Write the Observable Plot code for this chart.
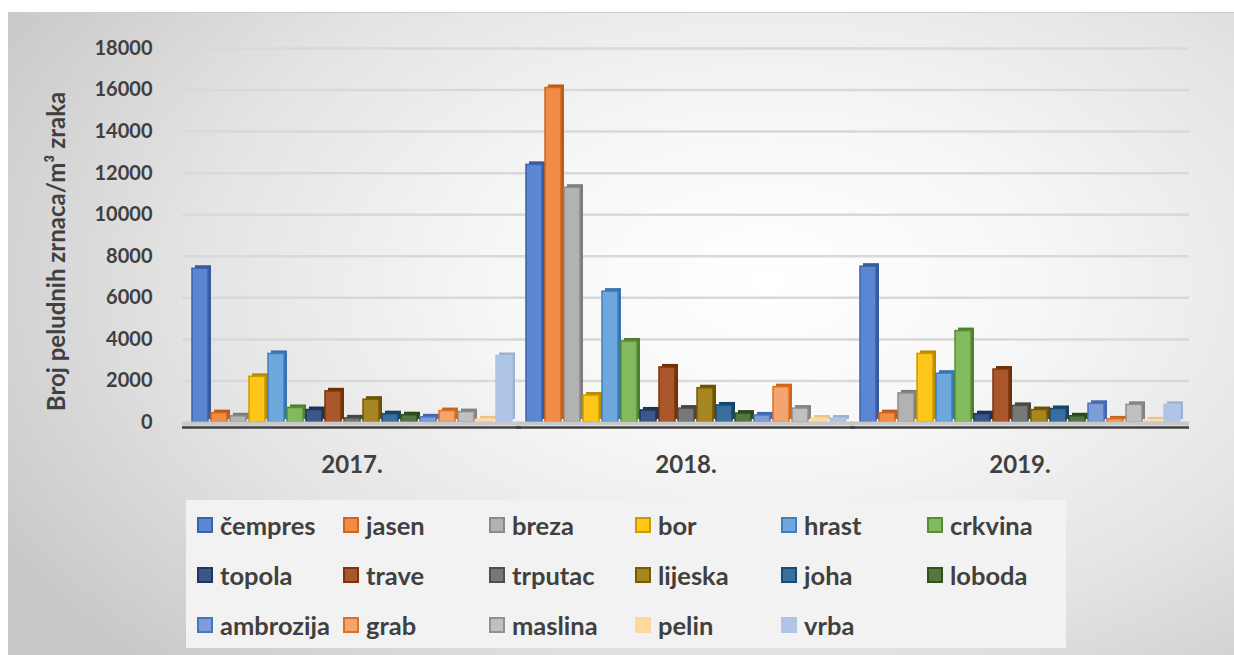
<!DOCTYPE html>
<html>
<head>
<meta charset="utf-8">
<script src="https://cdn.jsdelivr.net/npm/d3@7"></script>
<script src="https://cdn.jsdelivr.net/npm/@observablehq/plot@0.6"></script>
<style>
  body { margin: 0; background: #fff; }
  #wrap { position: relative; width: 1234px; height: 655px; overflow: hidden; background: #fff; font-family: Lato, "Open Sans", sans-serif; }
  #panel { position: absolute; left: 8px; top: 12px; right: 0; bottom: 0; border-top: 1px solid #cdcdcd;
    background: radial-gradient(ellipse 72% 85% at 62% 42%, #ffffff 0%, #f7f7f7 30%, #e4e4e4 65%, #c8c8c8 100%); }
  #chart { position: absolute; left: 0; top: 0; }
  #legend { position: absolute; left: 186px; top: 500px; width: 880px; height: 148px; background: #f2f2f2;
    display: grid; grid-template-columns: repeat(6, 146px); grid-auto-rows: 50px; padding-left: 11px; box-sizing: border-box; }
  .item { display: flex; align-items: center; color: #404040; font-weight: 700; font-size: 25.5px; white-space: nowrap; }
  .sw { width: 16px; height: 16px; box-sizing: border-box; border: 2px solid; margin-right: 7px; flex: none; }
</style>
</head>
<body>
<div id="wrap">
  <div id="panel"></div>
  <div id="chart"></div>
  <div id="legend"></div>
</div>
<script>
const years = ["2017.", "2018.", "2019."];
const species = ["čempres", "jasen", "breza", "bor", "hrast", "crkvina", "topola", "trave", "trputac",
  "lijeska", "joha", "loboda", "ambrozija", "grab", "maslina", "pelin", "vrba"];
const values2017 = [7400, 450, 300, 2200, 3300, 700, 600, 1500, 200, 1100, 400, 350, 250, 550, 500, 150, 3200];
const values2018 = [12400, 16100, 11300, 1300, 6300, 3900, 580, 2650, 670, 1650, 820, 430, 340, 1700, 670, 190, 190];
const values2019 = [7500, 450, 1400, 3300, 2350, 4400, 400, 2550, 800, 600, 650, 300, 900, 150, 850, 100, 850];
const yTicks = [0, 2000, 4000, 6000, 8000, 10000, 12000, 14000, 16000, 18000];
const yLabel = "Broj peludnih zrnaca/m³ zraka";
const fills = ["#5B86D2", "#F08C48", "#B2B2B2", "#FFC61A", "#6EA7DB", "#82BA5E", "#3B5688", "#A8562A", "#777777",
  "#A68523", "#3A6E9E", "#557640", "#7C9DD8", "#F3A571", "#C0C0C0", "#FFD8A0", "#AEC5E8"];
const strokes = ["#3B63AC", "#D0651C", "#8A8A8A", "#CC9A00", "#3C80C0", "#5A8C38", "#1E3660", "#7A360A", "#4E4E4E",
  "#785A00", "#1B4A74", "#30501E", "#4A73C0", "#E0701F", "#909090", "#FFD8A0", "#AEC5E8"];

const seriesByYear = [values2017, values2018, values2019];
const fillOf = Object.fromEntries(species.map((s, i) => [s, fills[i]]));
const strokeOf = Object.fromEntries(species.map((s, i) => [s, strokes[i]]));
const data = years.flatMap((yr, i) => seriesByYear[i].map((v, j) => ({year: yr, species: species[j], value: v})));

const chart = Plot.plot({
  width: 1234,
  height: 490,
  marginLeft: 180,
  marginRight: 44,
  marginTop: 48,
  marginBottom: 68,
  style: {background: "transparent", fontFamily: "Lato, 'Open Sans', sans-serif", color: "#404040"},
  fx: {domain: years, paddingInner: 0.027, paddingOuter: 0.025},
  x: {domain: species, paddingInner: 0.16, paddingOuter: 0, axis: null},
  y: {domain: [0, 18000]},
  color: {type: "identity"},
  marks: [
    Plot.ruleY(yTicks.slice(1), {stroke: "#d9d9d9", strokeWidth: 2.5, insetLeft: -7, insetRight: -7}),
    Plot.axisY(yTicks, {tickSize: 0, tickPadding: 37, fontSize: 20, fontWeight: "bold", color: "#404040",
      tickFormat: d => String(d), label: null}),
    Plot.text([yLabel], {fx: () => years[0], frameAnchor: "left", rotate: -90, textAnchor: "middle", lineAnchor: "middle",
      fontSize: 24, fontWeight: "bold", fill: "#404040", dx: -132, dy: 16}),
    Plot.axisFx({anchor: "bottom", tickSize: 0, tickPadding: 33, fontSize: 24, fontWeight: "bold", color: "#404040", label: null}),
    Plot.barY(data, {fx: "year", x: "species", y: "value", dx: 3, dy: -3,
      fill: d => d3.color(strokeOf[d.species]).darker(0.3).formatHex()}),
    Plot.barY(data, {fx: "year", x: "species", y: "value",
      fill: d => fillOf[d.species], stroke: d => strokeOf[d.species], strokeWidth: 1.5}),
    Plot.ruleY([0], {stroke: "#c8c8c8", strokeWidth: 4, dy: 1, insetLeft: -7, insetRight: -7}),
    Plot.ruleY([0], {stroke: "#404040", strokeWidth: 2.5, dy: 5, insetLeft: -7, insetRight: -7})
  ]
});
document.getElementById("chart").appendChild(chart);

const legend = document.getElementById("legend");
species.forEach((s, i) => {
  const item = document.createElement("div");
  item.className = "item";
  const sw = document.createElement("span");
  sw.className = "sw";
  sw.style.background = fills[i];
  sw.style.borderColor = strokes[i];
  item.appendChild(sw);
  item.appendChild(document.createTextNode(s));
  legend.appendChild(item);
});
</script>
</body>
</html>
